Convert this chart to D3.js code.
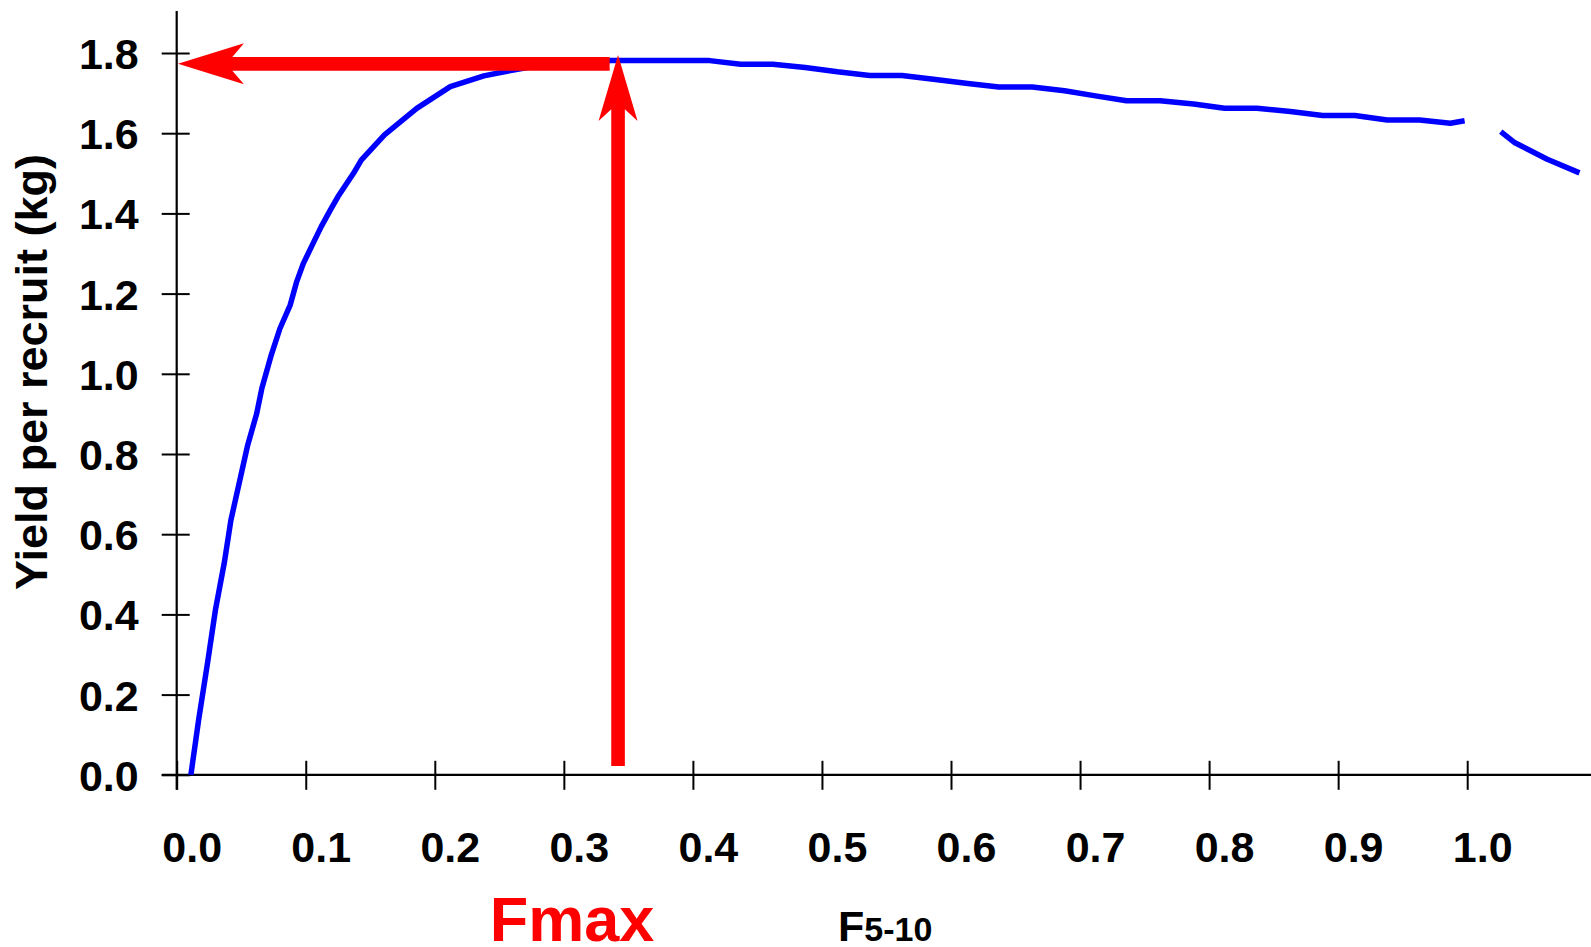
<!DOCTYPE html>
<html>
<head>
<meta charset="utf-8">
<script src="https://cdn.jsdelivr.net/npm/d3@7"></script>
<style>
  html, body { margin: 0; padding: 0; background: #fff; overflow: hidden; }
  svg { display: block; }
  text { font-family: "Liberation Sans", Arial, sans-serif; font-weight: bold; }
</style>
</head>
<body>
<svg id="chart" width="1591" height="947"></svg>
<script>
// ---- Data ----
// Fishing mortality F(5-10) values of the yield-per-recruit curve (null = gap in the line)
const fValues = [0.011, 0.017, 0.024, 0.030, 0.037, 0.042, 0.055, 0.062, 0.066, 0.073,
  0.080, 0.088, 0.093, 0.098, 0.105, 0.112, 0.119, 0.125, 0.137, 0.143,
  0.161, 0.186, 0.212, 0.238, 0.263, 0.288, 0.3125, 0.337, 0.363, 0.388,
  0.413, 0.437, 0.462, 0.487, 0.512, 0.537, 0.562, 0.588, 0.613, 0.637,
  0.663, 0.688, 0.712, 0.736, 0.762, 0.788, 0.812, 0.837, 0.863, 0.888,
  0.913, 0.938, 0.963, 0.987, 0.998, null, 1.026, 1.037, 1.062, 1.087];
// Yield per recruit (kg)
const yprValues = [0.000, 0.137, 0.281, 0.411, 0.531, 0.635, 0.822, 0.901, 0.964, 1.044,
  1.113, 1.172, 1.230, 1.274, 1.321, 1.367, 1.408, 1.442, 1.500, 1.533,
  1.596, 1.662, 1.716, 1.743, 1.759, 1.773, 1.779, 1.781, 1.781, 1.781,
  1.781, 1.772, 1.772, 1.764, 1.753, 1.744, 1.744, 1.734, 1.724, 1.715,
  1.715, 1.706, 1.693, 1.681, 1.681, 1.673, 1.662, 1.662, 1.654, 1.644,
  1.644, 1.633, 1.633, 1.625, 1.631, null, 1.604, 1.576, 1.535, 1.501];

const xTickValues = [0.0, 0.1, 0.2, 0.3, 0.4, 0.5, 0.6, 0.7, 0.8, 0.9, 1.0];
const xTickLabels = ["0.0", "0.1", "0.2", "0.3", "0.4", "0.5", "0.6", "0.7", "0.8", "0.9", "1.0"];
const yTickValues = [0.0, 0.2, 0.4, 0.6, 0.8, 1.0, 1.2, 1.4, 1.6, 1.8];
const yTickLabels = ["0.0", "0.2", "0.4", "0.6", "0.8", "1.0", "1.2", "1.4", "1.6", "1.8"];

// Fmax annotation
const fmax = 0.342;          // F at maximum yield
const yprAtFmax = 1.773;     // horizontal arrow level
const vArrowTop = 1.795;     // vertical arrow tip
const vArrowBottom = 0.022;  // vertical arrow foot
const hArrowTip = 0.001;     // horizontal arrow tip (F)
const hArrowEnd = 0.3355;    // horizontal arrow tail (F)

const yTitle = "Yield per recruit (kg)";
const fmaxLabel = "Fmax";
const xTitleMain = "F";
const xTitleSub = "5-10";

// ---- Layout ----
const svg = d3.select("#chart");
const x0 = 176.7, xEnd = 1591;
const yZero = 774.8, yTop = 11;
const x = d3.scaleLinear().domain([0, (xEnd - x0) / 1290.5]).range([x0, xEnd]);
const y = d3.scaleLinear().domain([0, (yZero - yTop) / 401]).range([yZero, yTop]);

const pts = fValues.map((f, i) => ({ f: f, v: yprValues[i] }));

// Axes
const xAxis = d3.axisBottom(x).tickValues(xTickValues).tickFormat((d, i) => xTickLabels[i]).tickSize(0).tickPadding(0);
const yAxis = d3.axisLeft(y).tickValues(yTickValues).tickFormat((d, i) => yTickLabels[i]).tickSize(0).tickPadding(0);

const gx = svg.append("g").attr("transform", `translate(0,${yZero})`).call(xAxis);
gx.select(".domain").remove();
gx.append("line").attr("x1", x0 - 15).attr("x2", xEnd).attr("y1", 0).attr("y2", 0)
  .attr("stroke", "#000").attr("stroke-width", 2.2);
gx.selectAll(".tick line").attr("y1", -14).attr("y2", 15).attr("stroke", "#000").attr("stroke-width", 2);
gx.selectAll(".tick text").attr("x", 15).attr("y", 87).attr("dy", 0)
  .attr("fill", "#000").style("font-size", "43px").attr("text-anchor", "middle");

const gy = svg.append("g").attr("transform", `translate(${x0},0)`).call(yAxis);
gy.select(".domain").remove();
gy.append("line").attr("x1", 0).attr("x2", 0).attr("y1", yTop).attr("y2", yZero + 15)
  .attr("stroke", "#000").attr("stroke-width", 2.2);
gy.selectAll(".tick line").attr("x1", -15).attr("x2", 13).attr("stroke", "#000").attr("stroke-width", 2);
gy.selectAll(".tick text").attr("x", -38).attr("dy", "0.36em")
  .attr("fill", "#000").style("font-size", "43px").attr("text-anchor", "end");
svg.selectAll(".tick text").style("font-family", "'Liberation Sans', Arial, sans-serif").style("font-weight", "bold");

// Curve
const line = d3.line()
  .defined(d => d.f !== null && d.v !== null)
  .x(d => x(d.f)).y(d => y(d.v));
svg.append("path").datum(pts).attr("d", line)
  .attr("fill", "none").attr("stroke", "#0000ff").attr("stroke-width", 5.5)
  .attr("stroke-linejoin", "round");

// Arrows
const headLen = 66, headHalf = 20.5, notch = 48.5, shaftHalf = 6.8;
function arrowLeft(tx, ty, ex) {
  const innerX = tx + notch + (headLen - notch) * (shaftHalf / headHalf);
  return `M${tx},${ty} L${tx + headLen},${ty - headHalf} L${innerX},${ty - shaftHalf} L${ex},${ty - shaftHalf} L${ex},${ty + shaftHalf} L${innerX},${ty + shaftHalf} L${tx + headLen},${ty + headHalf} Z`;
}
function arrowUp(tx, ty, ey) {
  const innerY = ty + notch + (headLen - notch) * (shaftHalf / headHalf);
  return `M${tx},${ty} L${tx + headHalf - 1},${ty + headLen} L${tx + shaftHalf},${innerY} L${tx + shaftHalf},${ey} L${tx - shaftHalf},${ey} L${tx - shaftHalf},${innerY} L${tx - headHalf + 1},${ty + headLen} Z`;
}
svg.append("path").attr("d", arrowLeft(x(hArrowTip), y(yprAtFmax), x(hArrowEnd))).attr("fill", "#ff0000");
svg.append("path").attr("d", arrowUp(x(fmax), y(vArrowTop), y(vArrowBottom))).attr("fill", "#ff0000");

// Titles
svg.append("text")
  .attr("transform", `translate(47,372) rotate(-90)`)
  .attr("text-anchor", "middle").style("font-size", "45px").attr("fill", "#000")
  .text(yTitle);

svg.append("text").attr("x", 572).attr("y", 941).attr("text-anchor", "middle")
  .style("font-size", "63px").attr("fill", "#ff0000").text(fmaxLabel);

const xt = svg.append("text").attr("x", 838).attr("y", 941).attr("fill", "#000");
xt.append("tspan").style("font-size", "43px").text(xTitleMain);
xt.append("tspan").style("font-size", "34px").text(xTitleSub);
</script>
</body>
</html>
